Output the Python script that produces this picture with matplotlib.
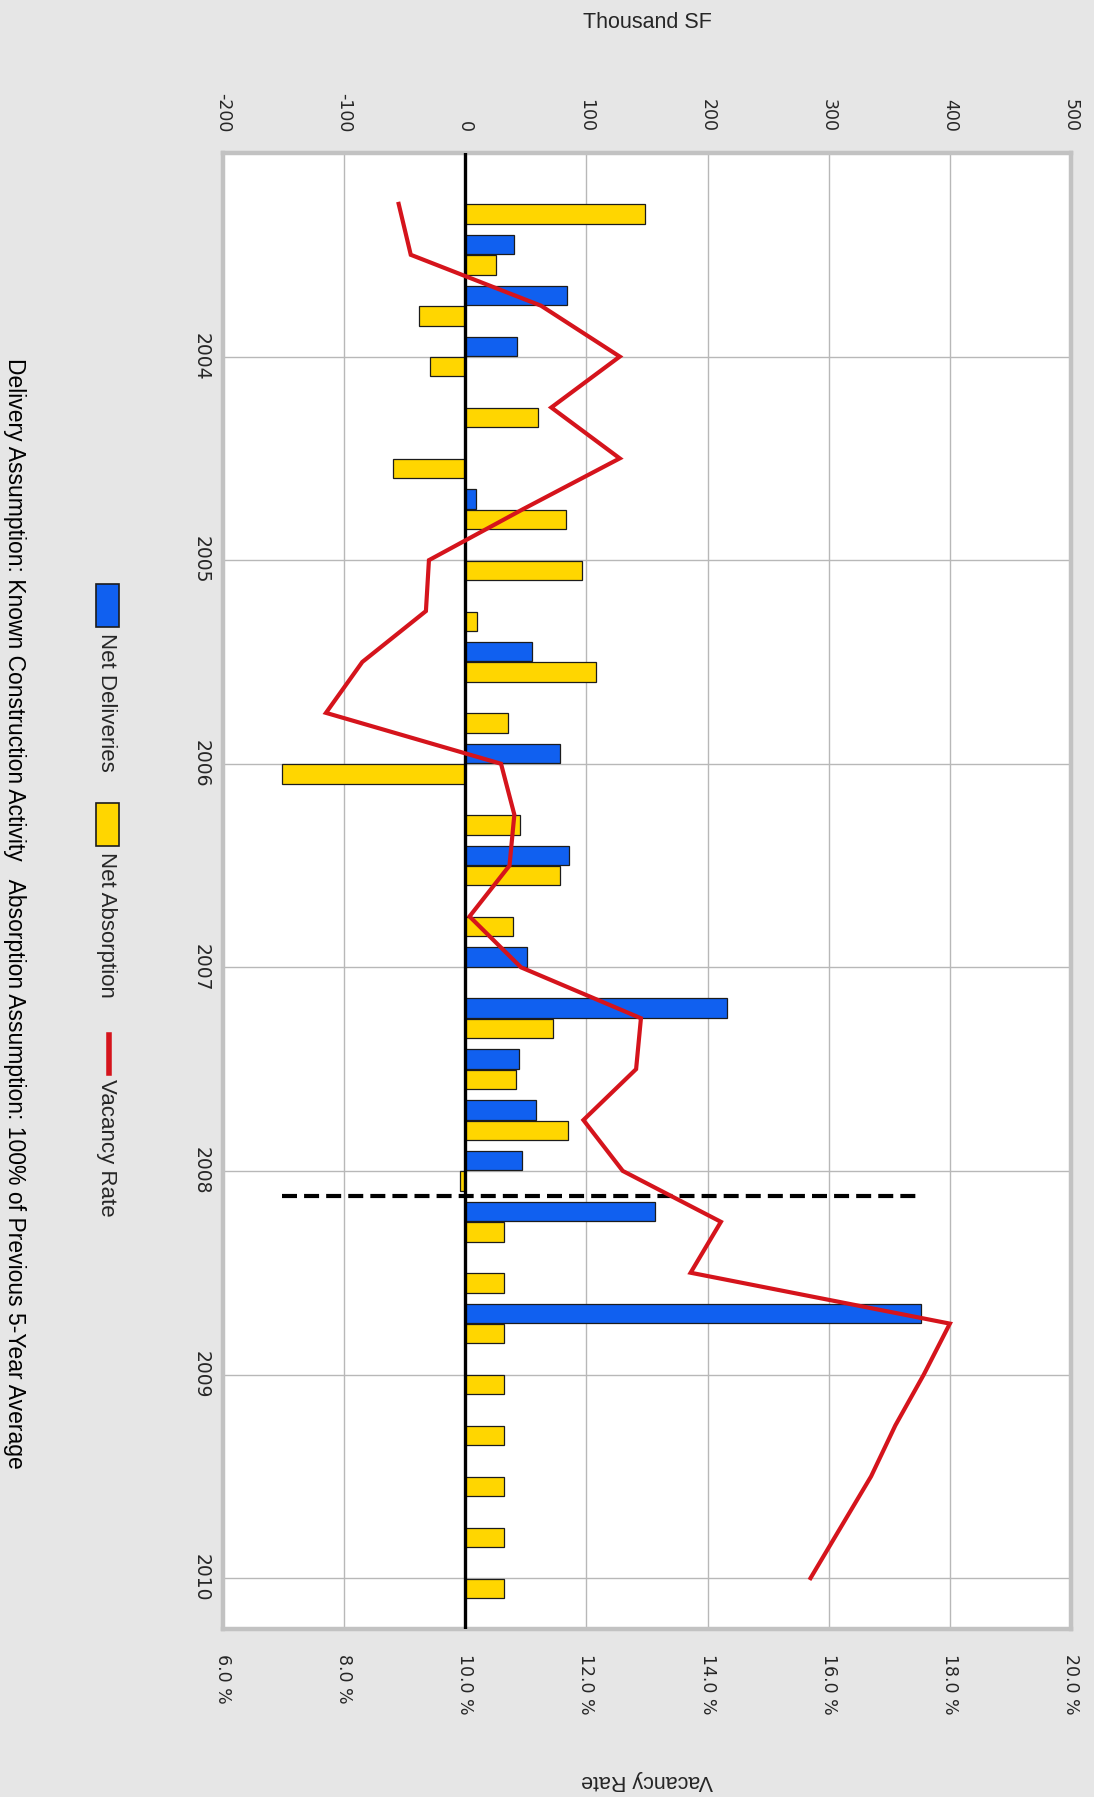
"""Office market quarterly deliveries, absorption and vacancy, drawn on its side."""

import matplotlib

matplotlib.use("Agg")
import matplotlib.pyplot as plt
import numpy as np
from matplotlib.patches import Rectangle
from matplotlib.lines import Line2D

plt.rcParams["font.family"] = ["Liberation Sans", "DejaVu Sans"]

W, H = 1094, 1797
BG = "#e6e6e6"
BLUE = "#1060f0"
YELLOW = "#ffd600"
RED = "#d5141c"
EDGE = "#1c1c1c"
GRID = "#b8b8b8"
FRAME = "#c2c2c2"
INK = "#262626"
TICK_FONT = "DejaVu Sans"

quarters = [
    "2003Q2", "2003Q3", "2003Q4",
    "2004Q1", "2004Q2", "2004Q3", "2004Q4",
    "2005Q1", "2005Q2", "2005Q3", "2005Q4",
    "2006Q1", "2006Q2", "2006Q3", "2006Q4",
    "2007Q1", "2007Q2", "2007Q3", "2007Q4",
    "2008Q1", "2008Q2", "2008Q3", "2008Q4",
    "2009Q1", "2009Q2", "2009Q3", "2009Q4",
    "2010Q1",
]
# thousand SF
deliveries = [0, 40, 84, 43, 0, 0, 9, 0, 0, 55, 0, 78, 0, 86, 0, 51,
              216, 44, 58, 47, 157, 0, 376, 0, 0, 0, 0, 0]
absorption = [148, 25, -38, -29, 60, -60, 83, 96, 10, 108, 35, -151, 45, 78, 39, 0,
              72, 42, 85, -4, 32, 32, 32, 32, 32, 32, 32, 32]
# percent
vacancy = [8.9, 9.1, 11.25, 12.55, 11.42, 12.55, 10.95, 9.4, 9.35, 8.3, 7.7, 10.59,
           10.81, 10.73, 10.07, 10.92, 12.9, 12.82, 11.95, 12.6, 14.22, 13.72, 18.0,
           17.57, 17.1, 16.7, 16.2, 15.7]
years = ["2004", "2005", "2006", "2007", "2008", "2009", "2010"]
sf_ticks = [-200, -100, 0, 100, 200, 300, 400, 500]
rate_ticks = [6, 8, 10, 12, 14, 16, 18, 20]
first_forecast = "2008Q2"


def fig_xy(px, py):
    return px / W, 1 - py / H


fig = plt.figure(figsize=(W / 100, H / 100), dpi=100)
fig.patch.set_facecolor(BG)

left, right, top, bottom = 223, 1071, 153, 1629
ax = fig.add_axes([left / W, 1 - bottom / H, (right - left) / W, (bottom - top) / H])
ax.set_facecolor("white")
ax2 = ax.twiny()

pos = np.arange(len(quarters))
ax.barh(pos - 0.2, deliveries, height=0.38, color=BLUE, edgecolor=EDGE, lw=0.9, zorder=2)
ax.barh(pos + 0.2, absorption, height=0.38, color=YELLOW, edgecolor=EDGE, lw=0.9, zorder=2)
ax.axvline(0, color="black", lw=2.4, zorder=3)

# history / forecast split
split = quarters.index(first_forecast) - 0.5
ax.plot([min(absorption), max(deliveries)], [split, split], color="black", lw=3,
        dashes=(3.6, 1.7), zorder=3)

ax.set_xlim(-200, 500)
ax.set_ylim(len(quarters), -1)
ax.xaxis.tick_top()
ax.set_xticks(sf_ticks)
ax.set_xticklabels([str(v) for v in sf_ticks], rotation=-90, family=TICK_FONT)
ax.tick_params(axis="x", length=0, pad=15, labelsize=12.5, labelcolor=INK)

year_pos = [quarters.index(y + "Q1") for y in years]
ax.set_yticks(year_pos)
ax.set_yticklabels(years, rotation=-90, family=TICK_FONT)
for lbl in ax.get_yticklabels():
    lbl.set_va("center")
ax.tick_params(axis="y", length=0, pad=9, labelsize=13.5, labelcolor=INK)

ax.set_axisbelow(True)
ax.grid(True, color=GRID, lw=1)
for sp in ax.spines.values():
    sp.set_color(FRAME)
    sp.set_linewidth(3.2)

ax2.plot(vacancy, pos, color=RED, lw=3, solid_joinstyle="miter", zorder=4)
ax2.set_xlim(6, 20)
ax2.xaxis.tick_bottom()
ax2.set_xticks(rate_ticks)
ax2.set_xticklabels([f"{v:.1f} %" for v in rate_ticks], rotation=-90, family=TICK_FONT)
ax2.tick_params(axis="x", length=0, pad=18, labelsize=12.5, labelcolor=INK)
for sp in ax2.spines.values():
    sp.set_visible(False)

fig.text(*fig_xy(647, 23), "Thousand SF", ha="center", va="center", fontsize=15.5, color=INK)
fig.text(*fig_xy(647, 1781), "Vacancy Rate", ha="center", va="center", rotation=180,
         fontsize=15.5, color=INK)

# legend, laid out along the left margin
for (y0, y1), color in (((584, 627), BLUE), ((803, 846), YELLOW)):
    x0, yb = fig_xy(96, y1)
    fig.patches.append(Rectangle((x0, yb), 23 / W, (y1 - y0) / H, transform=fig.transFigure,
                                 facecolor=color, edgecolor=EDGE, lw=1.2))
fig.lines.append(Line2D([109 / W, 109 / W], [1 - 1035 / H, 1 - 1073 / H],
                        transform=fig.transFigure, color=RED, lw=4))
for text, y0 in (("Net Deliveries", 633), ("Net Absorption", 852), ("Vacancy Rate", 1079)):
    fig.text(*fig_xy(106, y0), text, rotation=-90, ha="center", va="top", fontsize=16, color=INK)

fig.text(*fig_xy(14, 913),
         "Delivery Assumption: Known Construction Activity   "
         "Absorption Assumption: 100% of Previous 5-Year Average",
         rotation=-90, ha="center", va="center", fontsize=16.5, color="black")

fig.savefig("out.png", dpi=100, facecolor=BG)
